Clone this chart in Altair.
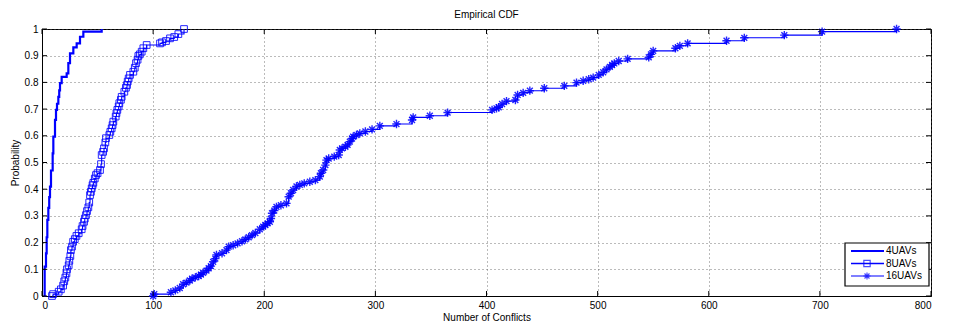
import altair as alt
import pandas as pd

# ---- data ----
series_names = ["4UAVs", "8UAVs", "16UAVs"]

x_4 = [2, 2.4, 3.6, 4.2, 4.8, 5.7, 6.5, 7.2, 8.1, 9.6, 10.2, 11.7, 12.6, 13.5, 14.7,
       15.5, 16.2, 17.7, 22.2, 23.7, 25.2, 28.2, 31.2, 34.2, 37.2, 53.7]
p_4 = [0.0, 0.11, 0.16, 0.22, 0.285, 0.33, 0.37, 0.41, 0.47, 0.534, 0.597, 0.66, 0.697,
       0.72, 0.746, 0.77, 0.797, 0.821, 0.834, 0.872, 0.909, 0.931, 0.946, 0.971, 0.99, 1.0]

x_8 = [9, 10, 15, 17, 19, 20, 21, 22, 22.5, 24, 24.6, 25.5, 26, 27, 28, 29.5, 31, 33,
       35.7, 36.5, 37.8, 38.5, 39.6, 40.5, 41.7, 42.5, 43.2, 44, 44.7, 45.5, 46.2, 47.5,
       48.6, 50, 52.2, 53.1, 53.7, 55, 55.8, 57, 57.6, 60.6, 61.5, 62.7, 63.5, 64.2, 66.3,
       67, 67.8, 69, 69.6, 71, 71.7, 74.1, 75.5, 76.5, 77.1, 78, 79.2, 82.2, 83.5, 84.6,
       86, 86.7, 88, 89.7, 91.2, 94.2, 106.2, 108, 111.6, 115.2, 119, 122.7, 127.8]
p_8 = [0.0, 0.007, 0.016, 0.025, 0.039, 0.055, 0.069, 0.085, 0.1, 0.115, 0.132, 0.15,
       0.172, 0.185, 0.203, 0.213, 0.225, 0.235, 0.25, 0.262, 0.278, 0.29, 0.303, 0.318,
       0.332, 0.35, 0.378, 0.39, 0.403, 0.415, 0.424, 0.44, 0.453, 0.46, 0.472, 0.494,
       0.528, 0.54, 0.553, 0.575, 0.591, 0.603, 0.615, 0.628, 0.64, 0.653, 0.672, 0.685,
       0.697, 0.71, 0.722, 0.735, 0.746, 0.765, 0.78, 0.79, 0.803, 0.815, 0.828, 0.84,
       0.855, 0.872, 0.885, 0.899, 0.905, 0.915, 0.928, 0.94, 0.946, 0.95, 0.955, 0.965,
       0.97, 0.981, 1.0]

x_16 = [100, 101, 116, 120, 124, 127, 130, 133, 135, 138, 141, 143, 145, 148, 150, 152,
        154, 156, 157, 162, 166, 168, 172, 176, 180, 183, 186, 189, 192, 196, 199, 201,
        203, 205, 206, 207, 209, 211, 215, 220, 222, 224, 226, 229, 232, 236, 241, 246,
        250, 251, 253, 255, 256, 258, 263, 267, 268, 270, 273, 275, 277, 279, 280, 283,
        286, 291, 297, 304, 319, 333, 334, 349, 365, 405, 409, 411, 414, 418, 426, 428,
        433, 439, 452, 470, 481, 487, 492, 496, 501, 505, 508, 511, 513, 515, 519, 527,
        546, 548, 550, 570, 574, 581, 616, 632, 668, 702, 769]
p_16 = [0.0, 0.007, 0.014, 0.021, 0.03, 0.044, 0.05, 0.058, 0.065, 0.07, 0.075, 0.08,
        0.087, 0.095, 0.104, 0.112, 0.128, 0.14, 0.154, 0.16, 0.172, 0.185, 0.19, 0.197,
        0.205, 0.212, 0.22, 0.228, 0.236, 0.25, 0.26, 0.266, 0.272, 0.278, 0.29, 0.31,
        0.32, 0.334, 0.34, 0.347, 0.372, 0.385, 0.397, 0.41, 0.416, 0.422, 0.428, 0.434,
        0.447, 0.46, 0.472, 0.49, 0.509, 0.515, 0.522, 0.528, 0.547, 0.553, 0.559, 0.566,
        0.578, 0.59, 0.597, 0.603, 0.609, 0.616, 0.624, 0.637, 0.644, 0.659, 0.669, 0.675,
        0.687, 0.697, 0.703, 0.707, 0.719, 0.73, 0.734, 0.753, 0.761, 0.769, 0.778, 0.787,
        0.799, 0.806, 0.812, 0.818, 0.828, 0.838, 0.849, 0.858, 0.865, 0.871, 0.88, 0.888,
        0.894, 0.905, 0.918, 0.928, 0.937, 0.946, 0.956, 0.967, 0.977, 0.99, 1.0]

x_ticks = [0, 100, 200, 300, 400, 500, 600, 700, 800]
y_ticks = [0, 0.1, 0.2, 0.3, 0.4, 0.5, 0.6, 0.7, 0.8, 0.9, 1.0]

# ---- styling ----
W, H = 889, 267
BLUE = "#0000ff"
FONT = "Liberation Sans"
STAR = "M0,-1V1M-1,0H1M-0.7,-0.7L0.7,0.7M-0.7,0.7L0.7,-0.7"

rows = []
for name, xs, ps in [("4UAVs", x_4, p_4), ("8UAVs", x_8, p_8), ("16UAVs", x_16, p_16)]:
    for i, (xv, pv) in enumerate(zip(xs, ps)):
        rows.append({"series": name, "x": xv, "p": pv, "i": i})
df = pd.DataFrame(rows)

xscale = alt.Scale(domain=[0, 800], nice=False, zero=False)
yscale = alt.Scale(domain=[0, 1], nice=False)

xaxis = alt.Axis(values=x_ticks, title="Number of Conflicts", grid=True,
                 gridDash=[1, 3], gridColor="#555555", gridOpacity=0.8,
                 tickSize=0, labelPadding=4, domainColor="black",
                 labelFont=FONT, labelFontSize=10, labelColor="black",
                 titleFont=FONT, titleFontSize=10, titleFontWeight="normal",
                 titleColor="black", titlePadding=2)
yaxis = alt.Axis(values=y_ticks, title="Probability", grid=True, format="~g",
                 gridDash=[1, 3], gridColor="#555555", gridOpacity=0.8,
                 tickSize=0, labelPadding=4, domainColor="black",
                 labelFont=FONT, labelFontSize=10, labelColor="black",
                 titleFont=FONT, titleFontSize=10, titleFontWeight="normal",
                 titleColor="black", titlePadding=4)

base = alt.Chart(df)

lines_thick = base.transform_filter(alt.datum.series == "4UAVs").mark_line(
    interpolate="step-after", color=BLUE, strokeWidth=2.2
).encode(
    x=alt.X("x:Q", scale=xscale, axis=xaxis),
    y=alt.Y("p:Q", scale=yscale, axis=yaxis),
    detail="series:N", order="i:Q",
)
lines_thin = base.transform_filter(alt.datum.series != "4UAVs").mark_line(
    interpolate="step-after", color=BLUE, strokeWidth=1.1
).encode(
    x=alt.X("x:Q", scale=xscale), y=alt.Y("p:Q", scale=yscale, axis=None),
    detail="series:N", order="i:Q",
)
squares = base.transform_filter(alt.datum.series == "8UAVs").mark_point(
    shape="square", filled=False, color=BLUE, size=45, strokeWidth=1, opacity=0.85
).encode(x=alt.X("x:Q", scale=xscale), y=alt.Y("p:Q", scale=yscale, axis=None))
stars = base.transform_filter(alt.datum.series == "16UAVs").mark_point(
    shape=STAR, filled=False, color=BLUE, size=70, strokeWidth=1.4, opacity=0.85
).encode(x=alt.X("x:Q", scale=xscale), y=alt.Y("p:Q", scale=yscale, axis=None))

# inward ticks (MATLAB style) on the four sides
xt = pd.DataFrame({"v": x_ticks})
yt = pd.DataFrame({"v": y_ticks})
tick_b = alt.Chart(xt).mark_rule(color="black", strokeWidth=1).encode(
    x=alt.X("v:Q", scale=xscale), y=alt.value(H), y2=alt.value(H - 5))
tick_t = alt.Chart(xt).mark_rule(color="black", strokeWidth=1).encode(
    x=alt.X("v:Q", scale=xscale), y=alt.value(0), y2=alt.value(5))
tick_l = alt.Chart(yt).mark_rule(color="black", strokeWidth=1).encode(
    y=alt.Y("v:Q", scale=yscale, axis=None), x=alt.value(0), x2=alt.value(5))
tick_r = alt.Chart(yt).mark_rule(color="black", strokeWidth=1).encode(
    y=alt.Y("v:Q", scale=yscale, axis=None), x=alt.value(W), x2=alt.value(W - 5))

# legend (box with line + marker samples)
leg = pd.DataFrame({"series": series_names, "k": [0, 1, 2]})
LX0, LX1, LY0, LY1 = W - 86, W - 2, H - 53, H - 10
leg_box = alt.Chart(pd.DataFrame({"a": [0]})).mark_rect(
    fill="white", stroke="black", strokeWidth=1.2
).encode(x=alt.value(LX0), x2=alt.value(LX1), y=alt.value(LY0), y2=alt.value(LY1))
leg_y = alt.Y("k:Q", scale=alt.Scale(domain=[0, 2], range=[LY0 + 8, LY1 - 10]), axis=None)
leg_line = alt.Chart(leg).mark_rule(color=BLUE).encode(
    x=alt.value(LX0 + 6), x2=alt.value(LX0 + 39), y=leg_y,
    strokeWidth=alt.StrokeWidth("series:N", scale=alt.Scale(domain=series_names, range=[2.2, 1.1, 1.1]), legend=None))
leg_pts = alt.Chart(leg).transform_filter(alt.datum.series != "4UAVs").mark_point(
    filled=False, color=BLUE, strokeWidth=1.2
).encode(
    x=alt.value(LX0 + 22), y=leg_y,
    shape=alt.Shape("series:N", scale=alt.Scale(domain=["8UAVs", "16UAVs"], range=["square", STAR]), legend=None),
    size=alt.Size("series:N", scale=alt.Scale(domain=["8UAVs", "16UAVs"], range=[40, 50]), legend=None),
)
leg_txt = alt.Chart(leg).mark_text(align="left", baseline="middle", font=FONT, fontSize=10, color="black").encode(
    x=alt.value(LX0 + 41), y=leg_y, text="series:N")

chart = alt.layer(
    lines_thick, lines_thin, squares, stars, tick_b, tick_t, tick_l, tick_r,
    leg_box, leg_line, leg_pts, leg_txt
).resolve_scale(y="independent").properties(
    width=W, height=H,
    title=alt.Title("Empirical CDF", font=FONT, fontSize=10, fontWeight="normal", color="black", offset=2),
    autosize=alt.AutoSizeParams(type="none"),
    padding={"left": 34, "top": 21, "right": 19, "bottom": 28},
).configure_view(stroke="black", strokeWidth=1)

chart.save("out.html", embed_options={"renderer": "svg", "actions": False})
